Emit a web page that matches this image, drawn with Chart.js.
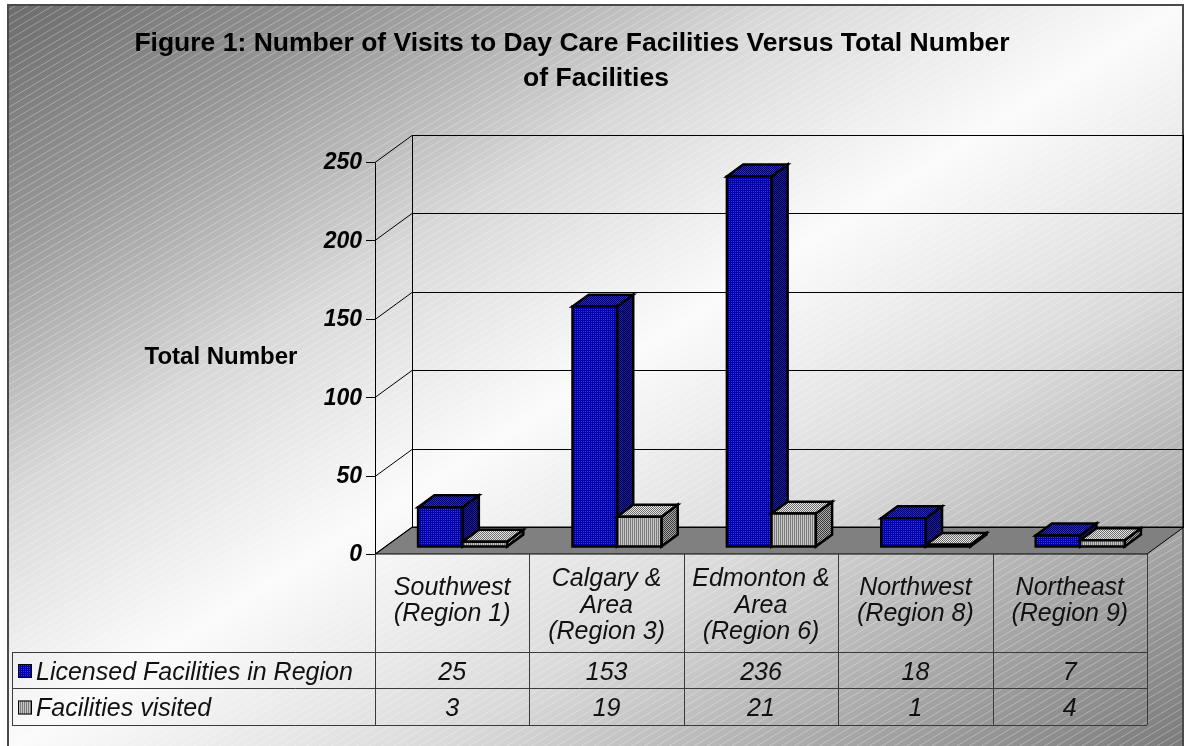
<!DOCTYPE html>
<html lang="en">
<head>
<meta charset="utf-8">
<title>Figure 1</title>
<style>
    body { margin: 0; background: #fff; }
    canvas { display: block; }
</style>
</head>
<body>
<canvas id="myChart" width="1185" height="746"></canvas>

<script src="https://cdn.jsdelivr.net/npm/chart.js"></script>
<script>
    // regions, series and axis ticks
    var regions = [
        ['Southwest', '(Region 1)'],
        ['Calgary &', 'Area', '(Region 3)'],
        ['Edmonton &', 'Area', '(Region 6)'],
        ['Northwest', '(Region 8)'],
        ['Northeast', '(Region 9)']
    ];
    var seriesNames = ['Licensed Facilities in Region', 'Facilities visited'];
    var licensed = [25, 153, 236, 18, 7];
    var visited = [3, 19, 21, 1, 4];
    var yTicks = [0, 50, 100, 150, 200, 250];
    var titleLines = ['Figure 1: Number of Visits to Day Care Facilities Versus Total Number', 'of Facilities'];
    var yTitle = 'Total Number';

    var FONT = '"Liberation Sans", Arial, sans-serif';
    var DX = 37, DY = -27;          // full floor depth
    var BAR_FRONT = 0.28, BAR_BACK = 0.72;

    function makePattern(ctx, w, h, cells) {
        var c = document.createElement('canvas');
        c.width = w; c.height = h;
        var g = c.getContext('2d');
        for (var yy = 0; yy < h; yy++) {
            for (var xx = 0; xx < w; xx++) {
                g.fillStyle = cells[yy * w + xx];
                g.fillRect(xx, yy, 1, 1);
            }
        }
        return ctx.createPattern(c, 'repeat');
    }

    var ctx = document.getElementById('myChart').getContext('2d');
    var fills = {
        blue: {
            front: makePattern(ctx, 2, 2, ['#0000a8', '#0000a8', '#0000a8', '#3434dc']),
            top: makePattern(ctx, 2, 2, ['#00006e', '#2a2ab8', '#2a2ab8', '#00006e']),
            side: makePattern(ctx, 2, 2, ['#00004e', '#1c1c96', '#1c1c96', '#00004e'])
        },
        gray: {
            front: makePattern(ctx, 2, 1, ['#7c7c7c', '#c6c6c6']),
            top: makePattern(ctx, 2, 2, ['#6c6c6c', '#e6e6e6', '#e6e6e6', '#6c6c6c']),
            side: makePattern(ctx, 2, 2, ['#3c3c3c', '#a8a8a8', '#a8a8a8', '#3c3c3c'])
        }
    };
    var seriesFills = [fills.blue, fills.gray];

    function poly(c, pts) {
        c.beginPath();
        c.moveTo(pts[0][0], pts[0][1]);
        for (var i = 1; i < pts.length; i++) c.lineTo(pts[i][0], pts[i][1]);
        c.closePath();
    }

    function box(c, x0, x1, yTop, yBot, f) {
        var fx = BAR_FRONT * DX, fy = BAR_FRONT * DY;
        var bx = BAR_BACK * DX, by = BAR_BACK * DY;
        c.lineWidth = 2.5;
        c.lineJoin = 'miter';
        c.strokeStyle = '#000';
        var front = [[x0 + fx, yTop + fy], [x1 + fx, yTop + fy], [x1 + fx, yBot + fy], [x0 + fx, yBot + fy]];
        var top = [[x0 + fx, yTop + fy], [x1 + fx, yTop + fy], [x1 + bx, yTop + by], [x0 + bx, yTop + by]];
        var side = [[x1 + fx, yTop + fy], [x1 + bx, yTop + by], [x1 + bx, yBot + by], [x1 + fx, yBot + fy]];
        [[side, f.side], [top, f.top], [front, f.front]].forEach(function (p) {
            poly(c, p[0]);
            c.fillStyle = p[1];
            c.fill();
            c.stroke();
        });
    }

    var scenePlugin = {
        id: 'scene',
        beforeDraw: function (chart) {
            var c = chart.ctx, W = chart.width, H = chart.height;
            var area = chart.chartArea, y = chart.scales.y;
            var fx0 = 8, fy0 = 5, fw = W - 2 - fx0, fh = H + 4 - fy0;
            c.save();
            c.fillStyle = '#fff';
            c.fillRect(0, 0, W, H);

            // diagonal gradient fill of the frame
            c.save();
            c.translate(fx0, fy0);
            c.scale(fw, fh);
            var g = c.createLinearGradient(0, 0, 1, 1);
            g.addColorStop(0, '#6c6c6c');
            g.addColorStop(0.15, '#959595');
            g.addColorStop(0.33, '#d8d8d8');
            g.addColorStop(0.5, '#fbfbfb');
            g.addColorStop(0.68, '#dadada');
            g.addColorStop(0.85, '#a6a6a6');
            g.addColorStop(1, '#7a7a7a');
            c.fillStyle = g;
            c.fillRect(0, 0, 1, 1);
            c.restore();

            // fine light hatching
            c.save();
            c.beginPath();
            c.rect(fx0, fy0, fw, fh);
            c.clip();
            c.strokeStyle = 'rgba(255,255,255,0.3)';
            c.lineWidth = 1;
            c.beginPath();
            for (var k = 0; k < W * 0.6 + H + 20; k += 7.5) {
                c.moveTo(0, k);
                c.lineTo(W, k - W * 0.6);
            }
            c.stroke();
            c.restore();

            c.strokeStyle = '#4a4a4a';
            c.lineWidth = 2;
            c.strokeRect(fx0, fy0, fw, fh);

            // floor
            var y0 = y.getPixelForValue(0);
            poly(c, [[area.left, y0], [area.right, y0], [area.right + DX, y0 + DY], [area.left + DX, y0 + DY]]);
            c.fillStyle = '#808080';
            c.fill();
            c.lineWidth = 1;
            c.strokeStyle = '#000';
            c.stroke();

            // walls, gridlines and tick marks
            c.beginPath();
            yTicks.forEach(function (t) {
                var py = Math.round(y.getPixelForValue(t)) + 0.5;
                c.moveTo(area.left - 9, py);
                c.lineTo(area.left, py);
                c.lineTo(area.left + DX, py + DY);
                c.lineTo(area.right + DX, py + DY);
            });
            var topY = Math.round(y.getPixelForValue(yTicks[yTicks.length - 1])) + 0.5;
            c.moveTo(area.left + 0.5, topY);
            c.lineTo(area.left + 0.5, y0);
            c.moveTo(area.left + DX + 0.5, topY + DY);
            c.lineTo(area.left + DX + 0.5, y0 + DY);
            c.moveTo(area.right + DX - 0.5, topY + DY);
            c.lineTo(area.right + DX - 0.5, y0 + DY);
            c.stroke();

            // tick labels
            c.fillStyle = '#000';
            c.font = 'italic bold 23px ' + FONT;
            c.textAlign = 'right';
            c.textBaseline = 'middle';
            yTicks.forEach(function (t) {
                c.fillText(String(t), area.left - 13, y.getPixelForValue(t) + 1);
            });

            c.font = 'bold 24px ' + FONT;
            c.textAlign = 'center';
            c.fillText(yTitle, 221, 357);

            c.font = 'bold 26.5px ' + FONT;
            c.textBaseline = 'alphabetic';
            c.fillText(titleLines[0], 572, 51);
            c.fillText(titleLines[1], 596, 86);
            c.restore();
        },
        afterDatasetsDraw: function (chart) {
            var c = chart.ctx, area = chart.chartArea, y = chart.scales.y, x = chart.scales.x;
            c.save();
            // boxes, left to right so the right bar of a pair covers its neighbour
            for (var i = 0; i < regions.length; i++) {
                chart.data.datasets.forEach(function (ds, d) {
                    var el = chart.getDatasetMeta(d).data[i];
                    var p = el.getProps(['x', 'y', 'base', 'width'], true);
                    box(c, p.x - p.width / 2, p.x + p.width / 2, p.y, p.base, seriesFills[d]);
                });
            }

            // data table
            var y0 = y.getPixelForValue(0);
            var rowTop = 652, rowMid = 688, rowBot = 725, tableLeft = 12;
            c.strokeStyle = '#3a3a3a';
            c.lineWidth = 1;
            c.beginPath();
            c.moveTo(tableLeft, rowTop + 0.5); c.lineTo(area.right, rowTop + 0.5);
            c.moveTo(tableLeft, rowMid + 0.5); c.lineTo(area.right, rowMid + 0.5);
            c.moveTo(tableLeft, rowBot + 0.5); c.lineTo(area.right, rowBot + 0.5);
            c.moveTo(tableLeft + 0.5, rowTop); c.lineTo(tableLeft + 0.5, rowBot);
            for (var j = 0; j <= regions.length; j++) {
                var bx = Math.round(area.left + (area.right - area.left) * j / regions.length) + 0.5;
                c.moveTo(bx, y0); c.lineTo(bx, rowBot);
            }
            c.stroke();

            c.fillStyle = '#111';
            c.font = 'italic 25px ' + FONT;
            c.textAlign = 'center';
            c.textBaseline = 'middle';
            regions.forEach(function (lines, i) {
                var cx = x.getPixelForValue(i);
                var mid = lines.length > 2 ? 606 : 601;
                lines.forEach(function (s, k) {
                    c.fillText(s, cx, mid + (k - (lines.length - 1) / 2) * 26.5);
                });
                c.fillText(String(licensed[i]), cx, (rowTop + rowMid) / 2 + 3);
                c.fillText(String(visited[i]), cx, (rowMid + rowBot) / 2 + 3);
            });

            c.textAlign = 'left';
            [[rowTop, rowMid], [rowMid, rowBot]].forEach(function (r, d) {
                var cy = (r[0] + r[1]) / 2;
                c.fillStyle = seriesFills[d].front;
                c.fillRect(18, cy - 6, 14, 14);
                c.strokeStyle = '#000';
                c.strokeRect(18.5, cy - 5.5, 13, 13);
                c.fillStyle = '#111';
                c.fillText(seriesNames[d], 36, cy + 3);
            });
            c.restore();
        }
    };

    var myChart = new Chart(ctx, {
        type: 'bar',
        data: {
            labels: regions,
            datasets: [{
                label: seriesNames[0],
                data: licensed,
                backgroundColor: 'rgba(0,0,0,0)',
                borderWidth: 0
            }, {
                label: seriesNames[1],
                data: visited,
                backgroundColor: 'rgba(0,0,0,0)',
                borderWidth: 0
            }]
        },
        options: {
            responsive: false,
            animation: false,
            devicePixelRatio: 1,
            events: [],
            layout: {
                padding: { left: 375, right: 38, top: 162, bottom: 192 }
            },
            categoryPercentage: 0.576,
            barPercentage: 1,
            plugins: {
                legend: { display: false },
                title: { display: false },
                tooltip: { enabled: false }
            },
            scales: {
                x: { display: false },
                y: { display: false, min: 0, max: 250 }
            }
        },
        plugins: [scenePlugin]
    });
</script>
</body>
</html>
